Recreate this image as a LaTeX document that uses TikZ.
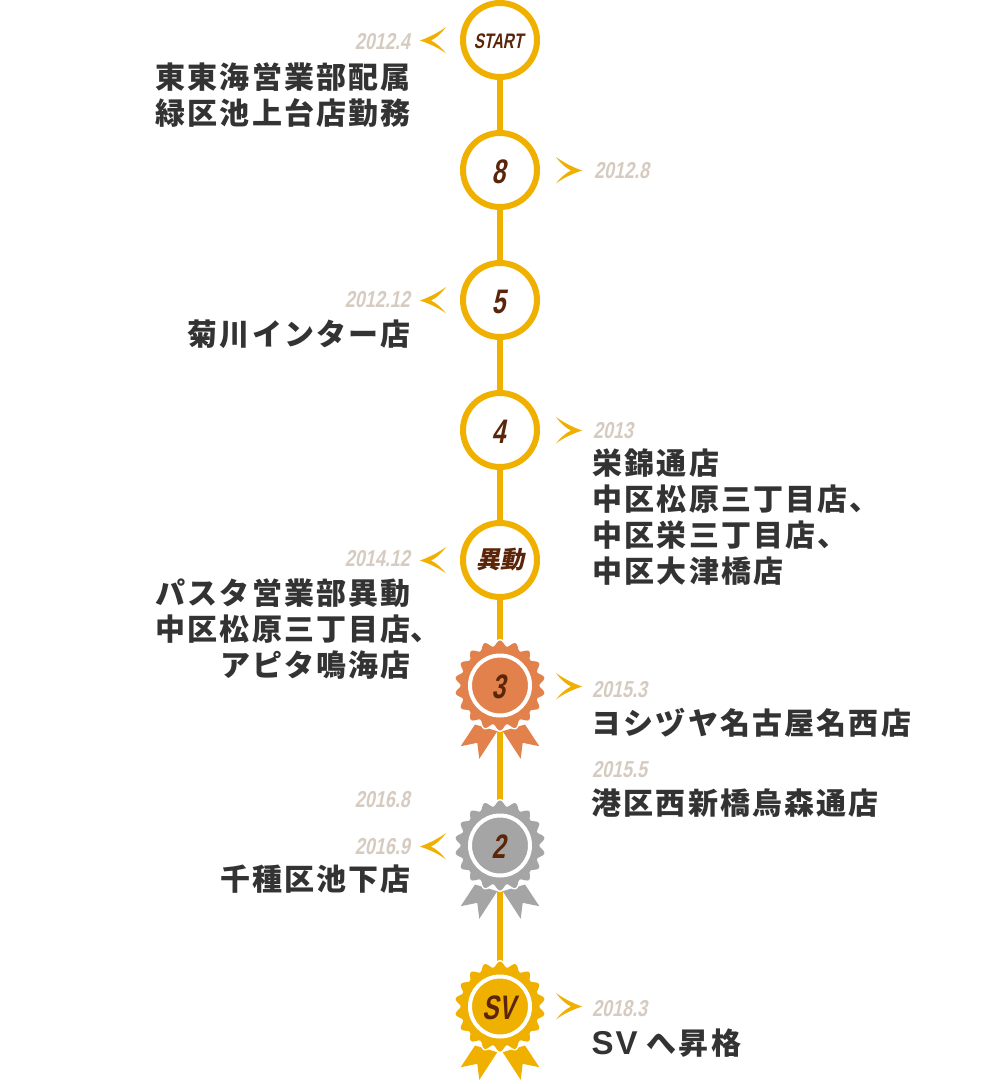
\documentclass[tikz,border=0pt]{standalone}
\usepackage{fontspec}
\usetikzlibrary{backgrounds}
\newfontfamily\jpfont[LetterSpace=7.2]{Noto Sans CJK JP Black}
\newfontfamily\latinb[LetterSpace=6]{Liberation Sans}
\newfontfamily\datefont[FakeStretch=0.78,FakeSlant=0.2]{Liberation Sans}
\newfontfamily\labfont[FakeStretch=0.72,FakeSlant=0.2]{Liberation Sans}
\newfontfamily\labjp[FakeSlant=0.2]{Noto Sans CJK JP}
\definecolor{lineY}{HTML}{F0B000}
\definecolor{brownT}{HTML}{5A2508}
\definecolor{dateC}{HTML}{D6CBC0}
\definecolor{bodyT}{HTML}{333333}
\definecolor{bronzeC}{HTML}{E2814C}
\definecolor{silverC}{HTML}{A5A5A5}
\newcommand{\lab}[2]{\raisebox{-1.5pt}[\height][\depth]{\kern-3pt\labfont\bfseries\fontsize{#1}{#1}\selectfont #2}}
\tikzset{
  ringnode/.style={circle,draw=lineY,line width=6pt,fill=white,minimum size=74pt,inner sep=0pt,text=brownT},
  medalring/.style={circle,draw=white,line width=4pt,minimum size=60pt,inner sep=0pt,text=brownT},
  connector/.style={draw=lineY,line width=6pt},
  datel/.style={text=dateC,inner sep=0pt,font=\datefont\bfseries\fontsize{23}{23}\selectfont},
  bodyl/.style={text=bodyT,inner sep=0pt,font=\jpfont\fontsize{30}{36}\selectfont},
  chev/.style={fill=lineY,draw=none}
}
\newcommand{\chevL}[1]{\fill[chev,shift={(0,#1)}] (420,0.5) .. controls (430,-3) and (439,-8) .. (446,-13) .. controls (441,-6) and (436,-2) .. (431,0.5) .. controls (436,3) and (441,7) .. (446,13.5) .. controls (439,8) and (430,4) .. (420,0.5) -- cycle;}
\newcommand{\chevR}[1]{\fill[chev,shift={(0,#1)}] (582,0.5) .. controls (572,-3) and (563,-8) .. (556,-13) .. controls (561,-6) and (566,-2) .. (571,0.5) .. controls (566,3) and (561,7) .. (556,13.5) .. controls (563,8) and (572,4) .. (582,0.5) -- cycle;}
\newcommand{\medal}[4]{%
  \begin{scope}[shift={(500,#2)}]
    \fill[#3] (-25,39) -- (-39.3,60.7) -- (-22.7,57.3) -- (-20.7,73.3) -- (-2.7,45.7) -- cycle;
    \fill[#3] (25,39) -- (39.3,60.7) -- (22.7,57.3) -- (20.7,73.3) -- (2.7,45.7) -- cycle;
    \draw[white,line width=3pt,fill=#3] plot[domain=0:360,samples=217,smooth] ({(42.2-2.8*cos(18*\x))*cos(\x)},{(42.2-2.8*cos(18*\x))*sin(\x)}) -- cycle;
    \fill[#3] plot[domain=0:360,samples=217,smooth] ({(42.2-2.8*cos(18*\x))*cos(\x)},{(42.2-2.8*cos(18*\x))*sin(\x)}) -- cycle;
    \node[medalring,fill=#3] (#1) at (0,0) {#4};
  \end{scope}}
\begin{document}
\begin{tikzpicture}[x=1pt,y=-1pt]
\useasboundingbox (0,0) rectangle (1000,1084);
% rings
\node[ringnode] (start) at (500,40) {\lab{21}{START}};
\node[ringnode] (n8) at (500,170) {\lab{34}{8}};
\node[ringnode] (n5) at (500,300) {\lab{34}{5}};
\node[ringnode] (n4) at (500,430) {\lab{34}{4}};
\node[ringnode] (ido) at (500,560) {\labjp\bfseries\fontsize{24}{24}\selectfont 異動};
% medals
\medal{m3}{685.5}{bronzeC}{\lab{34}{3}}
\medal{m2}{845.5}{silverC}{\lab{34}{2}}
\medal{msv}{1006.5}{lineY}{\lab{34}{SV}}
% connectors
\begin{scope}[on background layer]
  \fill[white] (0,0) rectangle (1000,1084);
  \draw[connector] (start) -- (n8);
  \draw[connector] (n8) -- (n5);
  \draw[connector] (n5) -- (n4);
  \draw[connector] (n4) -- (ido);
  \draw[connector] (ido) -- (m3);
  \draw[connector] (m3) -- (m2);
  \draw[connector] (m2) -- (msv);
\end{scope}
% chevrons
\chevL{40}\chevR{170}\chevL{300}\chevR{430}\chevL{560}\chevR{686}\chevL{846}\chevR{1006}
% dates
\node[datel,anchor=east] (d1) at (410,42) {2012.4};
\node[datel,anchor=west] (d2) at (594,171) {2012.8};
\node[datel,anchor=east] (d3) at (410,300) {2012.12};
\node[datel,anchor=west] (d4) at (593,431) {2013};
\node[datel,anchor=east] (d5) at (410,559) {2014.12};
\node[datel,anchor=west] (d6) at (592,690) {2015.3};
\node[datel,anchor=west] (d7) at (592,770) {2015.5};
\node[datel,anchor=east] (d8) at (410,800) {2016.8};
\node[datel,anchor=east] (d9) at (410,847) {2016.9};
\node[datel,anchor=west] (d10) at (592,1009) {2018.3};
% body text
\node[bodyl,anchor=east,align=right] (t1) at (411,95) {東東海営業部配属\\緑区池上台店勤務};
\node[bodyl,anchor=east] (t2) at (411,334) {菊川インター店};
\node[bodyl,anchor=west,align=left] (t3) at (592.5,517) {栄錦通店\\中区松原三丁目店、\\中区栄三丁目店、\\中区大津橋店};
\node[bodyl,anchor=east,align=right] (t4) at (411,629) {パスタ営業部異動\\中区松原三丁目店\rlap{、}\\アピタ鳴海店};
\node[bodyl,anchor=west] (t5) at (591.5,723) {ヨシヅヤ名古屋名西店};
\node[bodyl,anchor=west] (t6) at (591.5,803) {港区西新橋烏森通店};
\node[bodyl,anchor=east] (t7) at (411,879) {千種区池下店};
\node[bodyl,anchor=west] (t8) at (591.5,1043) {{\latinb\bfseries\fontsize{33}{36}\selectfont SV} へ昇格};
\end{tikzpicture}
\end{document}
